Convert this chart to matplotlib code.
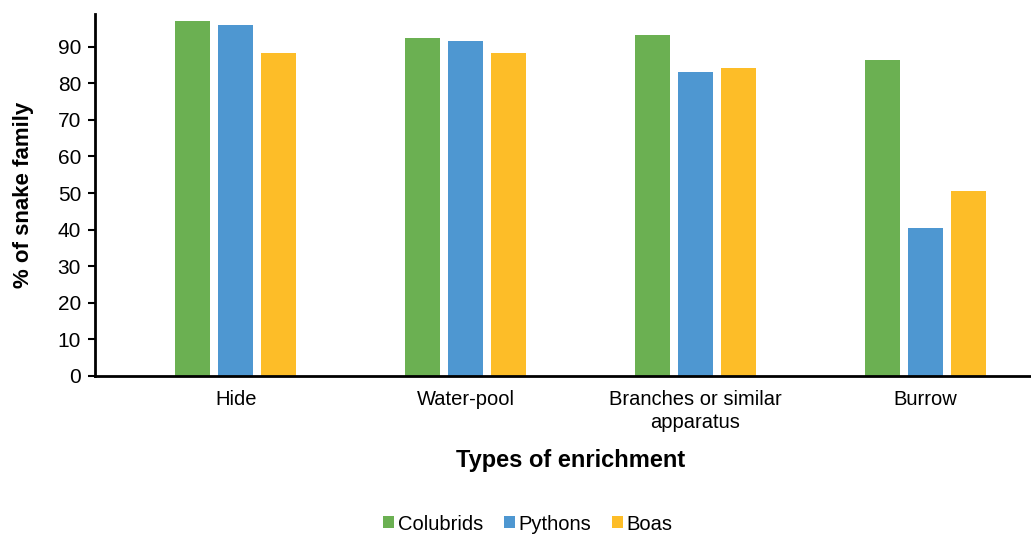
import numpy as np
import matplotlib.pyplot as plt

categories = ["Hide", "Water-pool", "Branches or similar\napparatus", "Burrow"]
series = ["Colubrids", "Pythons", "Boas"]
colubrids = [97.2, 92.4, 93.2, 86.4]
pythons = [96.1, 91.5, 83.0, 40.4]
boas = [88.3, 88.3, 84.2, 50.6]
yticks = [0, 10, 20, 30, 40, 50, 60, 70, 80, 90]

colors = ["#6BB052", "#4E97D1", "#FDBD28"]

plt.rcParams['font.family'] = ['Liberation Sans', 'DejaVu Sans']

fig = plt.figure(figsize=(10.31, 5.36), dpi=100)
ax = fig.add_axes([95/1031, 1 - 375.7/536, 1 - 95/1031, (375.7 - 14)/536])

x = np.arange(len(categories))
w = 0.152
step = 0.187
for i, (vals, name) in enumerate(zip([colubrids, pythons, boas], series)):
    ax.bar(x + (i - 1) * step, vals, width=w, color=colors[i], label=name)

ax.set_xlim(-0.613, 3.46)
ax.set_ylim(0, 99)
ax.set_yticks(yticks)
ax.set_xticks(x)
ax.set_xticklabels(categories, fontsize=14.5, linespacing=1.3)
ax.tick_params(axis='x', length=0, pad=10)
ax.tick_params(axis='y', labelsize=15, length=5, width=1.5, direction='out', pad=5)

for s in ['top', 'right']:
    ax.spines[s].set_visible(False)
ax.spines['left'].set_linewidth(2)
ax.spines['bottom'].set_linewidth(2)

ax.set_ylabel("% of snake family", fontsize=16, fontweight='bold', labelpad=17)
ax.set_xlabel("Types of enrichment", fontsize=17, fontweight='bold')
ax.xaxis.set_label_coords(0.508, -0.202)

fig.legend(loc='center', bbox_to_anchor=(528/1031, 1 - 524/536), ncol=3, frameon=False,
           fontsize=14.5, handlelength=0.55, handleheight=0.55, handletextpad=0.2,
           columnspacing=1.0)

fig.savefig("out.png", dpi=100)
